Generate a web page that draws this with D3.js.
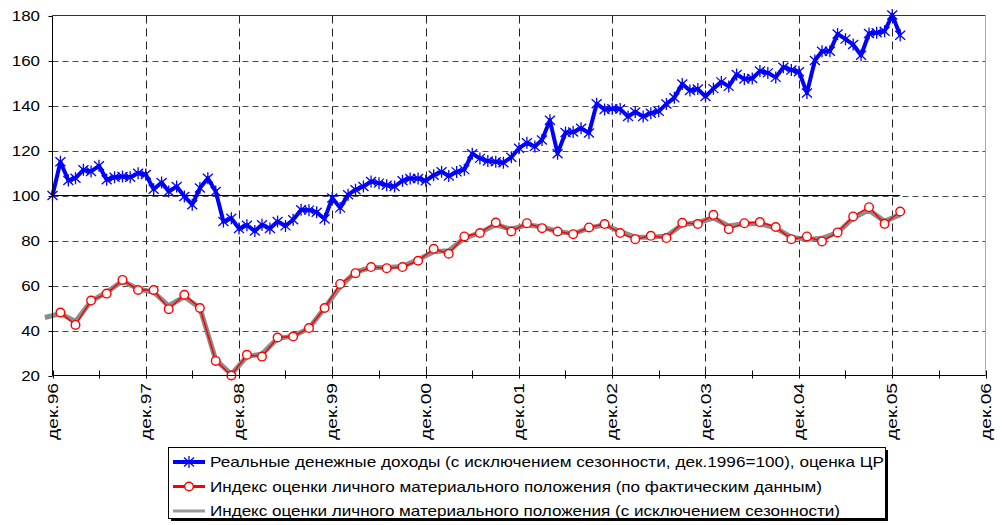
<!DOCTYPE html>
<html>
<head>
<meta charset="utf-8">
<script src="https://cdn.jsdelivr.net/npm/d3@7"></script>
<style>
  body { margin: 0; background: #fff; }
  svg { display: block; font-family: Arial, 'Liberation Sans', sans-serif; }
</style>
</head>
<body>
<main></main>
<script>
// monthly, from dec 1996
const incomeStart = new Date(Date.UTC(1996, 11, 1))
const incomeValues = [
  100, 115, 106.7, 107.7, 111.4, 110.7, 113.2, 107, 108.1, 108.4, 108.1, 109.9,
  109.3, 102.8, 105.8, 101.8, 104, 99.6, 95.9, 103.3, 107.7, 101.8, 88.4, 89.9,
  85.3, 86.8, 84.2, 87, 85.3, 88.4, 86.5, 89.2, 93.7, 93.5, 92.6, 89.6,
  98.9, 94.5, 100.3, 102.6, 104, 106.2, 105.5, 104.6, 104, 106.6, 107.6, 107.6,
  106.6, 109, 110.6, 108.7, 110.5, 111.5, 118.6, 116.5, 115.3, 115, 114.6, 117,
  121, 123.4, 121.8, 124.7, 133.4, 118.6, 128, 128.2, 129.9, 127.8, 140.8, 138.2,
  138.6, 138.4, 135.1, 137.1, 135.1, 136.6, 137.4, 140.7, 143.4, 149.6, 146.7, 147.3,
  144, 147.5, 150.5, 148.5, 153.8, 151.8, 152, 155.3, 154.5, 152.5, 157, 155.8,
  155, 145.6, 160, 164.1, 164.1, 171.8, 169.5, 167.1, 162.3, 172, 172.3, 173,
  180.2, 171.2
]
const baseValue = 100
// every two months, from jan 1997
const ratingStart = new Date(Date.UTC(1997, 0, 1))
const ratingValues = [
  48, 42.5, 53.3, 56.4, 62.5, 58, 58, 49.5, 55.9, 50, 26.5, 20,
  29.2, 28.4, 36.9, 37.3, 41.1, 50, 60.7, 65.5, 68.2, 67.7, 68.2, 71,
  76.3, 74.1, 81.8, 83.3, 88, 84, 87.7, 85.5, 84, 82.8, 85.8, 87.3,
  83.3, 80.6, 82.1, 81.1, 87.9, 87.3, 91.4, 85, 87.7, 88.2, 86, 80.6,
  81.8, 79.6, 83.6, 90.7, 94.8, 87.4, 92.9
]
// seasonally adjusted, every two months, from nov 1996
const ratingSaStart = new Date(Date.UTC(1996, 10, 1))
const ratingSaValues = [
  45.8, 47.5, 44, 53, 57, 62, 58.5, 57, 51, 55, 50, 27, 20.5,
  28.5, 29.5, 36.5, 37.5, 41, 50, 59.5, 66, 68, 68, 68.5, 71.5,
  75, 75.5, 81, 83.5, 87, 85, 87, 86, 84, 83, 85.5, 87,
  84, 81.5, 81.5, 82, 87, 88, 90, 86.5, 87.5, 87.5, 85.5, 81.5,
  80.5, 81, 83.5, 90, 93.5, 88.5, 91.5
]
const yTicks = [20, 40, 60, 80, 100, 120, 140, 160, 180]
const xTickLabels = ['дек.96', 'дек.97', 'дек.98', 'дек.99', 'дек.00', 'дек.01', 'дек.02', 'дек.03', 'дек.04', 'дек.05', 'дек.06']
const legendLabels = [
  'Реальные денежные доходы (с исключением сезонности, дек.1996=100), оценка ЦР',
  'Индекс оценки личного материального положения (по фактическим данным)',
  'Индекс оценки личного материального положения (с исключением сезонности)'
]

const width = 1002
const height = 525
const plot = { left: 52.5, right: 985.5, top: 15.5, bottom: 375.5 }

const svg = d3.select('main')
  .append('svg')
  .attr('width', width)
  .attr('height', height)
svg.append('rect').attr('width', width).attr('height', height).attr('fill', '#fff')

const xStart = incomeStart
const xEnd = d3.utcMonth.offset(incomeStart, 120)
const x = d3.scaleUtc().domain([xStart, xEnd]).range([plot.left, plot.right])
const y = d3.scaleLinear().domain([20, 180]).range([plot.bottom, plot.top])

const incomeData = incomeValues.map((v, i) => ({ date: d3.utcMonth.offset(incomeStart, i), value: v }))
const ratingData = ratingValues.map((v, i) => ({ date: d3.utcMonth.offset(ratingStart, 2 * i), value: v }))
const ratingSaData = ratingSaValues.map((v, i) => ({ date: d3.utcMonth.offset(ratingSaStart, 2 * i), value: v }))
const yearTicks = d3.utcMonth.range(xStart, d3.utcDay.offset(xEnd, 1), 12)
const halfYearTicks = d3.utcMonth.range(xStart, d3.utcDay.offset(xEnd, 1), 6)

// grid
svg.append('g')
  .selectAll('line')
  .data(yTicks.filter(t => t > 20 && t < 180))
  .enter()
  .append('line')
  .attr('x1', plot.left)
  .attr('x2', plot.right)
  .attr('y1', d => Math.round(y(d)) + 0.5)
  .attr('y2', d => Math.round(y(d)) + 0.5)
  .attr('stroke', '#4a4a4a')
  .attr('stroke-dasharray', '6,4')
svg.append('g')
  .selectAll('line')
  .data(yearTicks.slice(1, -1))
  .enter()
  .append('line')
  .attr('x1', d => Math.round(x(d)) + 0.5)
  .attr('x2', d => Math.round(x(d)) + 0.5)
  .attr('y1', plot.top)
  .attr('y2', plot.bottom)
  .attr('stroke', '#222')
  .attr('stroke-dasharray', '8,5')

// frame
svg.append('line')
  .attr('x1', plot.left).attr('x2', plot.right)
  .attr('y1', plot.top).attr('y2', plot.top)
  .attr('stroke', '#333')
svg.append('line')
  .attr('x1', plot.right).attr('x2', plot.right)
  .attr('y1', plot.top).attr('y2', plot.bottom)
  .attr('stroke', '#aaa')

// base line at 100
const line = d3.line().x(d => x(d.date)).y(d => y(d.value))
svg.append('path')
  .attr('d', line(incomeData.map(d => ({ date: d.date, value: baseValue }))))
  .attr('fill', 'none')
  .attr('stroke', '#000')
  .attr('stroke-width', 1.2)

// rating, seasonally adjusted
svg.append('path')
  .attr('d', line(ratingSaData))
  .attr('fill', 'none')
  .attr('stroke', '#8c8c8c')
  .attr('stroke-width', 5)
  .attr('stroke-linejoin', 'round')

// rating, actual
svg.append('path')
  .attr('d', line(ratingData))
  .attr('fill', 'none')
  .attr('stroke', '#ff0000')
  .attr('stroke-width', 1.5)
svg.append('g')
  .selectAll('circle')
  .data(ratingData)
  .enter()
  .append('circle')
  .attr('cx', d => x(d.date))
  .attr('cy', d => y(d.value))
  .attr('r', 4.3)
  .attr('fill', '#fff')
  .attr('stroke', '#ff0000')
  .attr('stroke-width', 1.4)

// income
const star = 'M-5,-4.5L5,4.5M-5,4.5L5,-4.5M0,-6L0,6'
svg.append('path')
  .attr('d', line(incomeData))
  .attr('fill', 'none')
  .attr('stroke', '#0000ff')
  .attr('stroke-width', 4)
  .attr('stroke-linejoin', 'round')
svg.append('g')
  .selectAll('path')
  .data(incomeData)
  .enter()
  .append('path')
  .attr('d', star)
  .attr('transform', d => `translate(${x(d.date)},${y(d.value)})`)
  .attr('fill', 'none')
  .attr('stroke', '#0000ff')
  .attr('stroke-width', 1.3)

// axes
svg.append('line')
  .attr('x1', plot.left).attr('x2', plot.left)
  .attr('y1', plot.top).attr('y2', plot.bottom)
  .attr('stroke', '#000')
svg.append('line')
  .attr('x1', plot.left).attr('x2', plot.right)
  .attr('y1', plot.bottom).attr('y2', plot.bottom)
  .attr('stroke', '#000')
svg.append('g')
  .selectAll('line')
  .data(yTicks)
  .enter()
  .append('line')
  .attr('x1', plot.left - 4)
  .attr('x2', plot.left)
  .attr('y1', d => Math.round(y(d)) + 0.5)
  .attr('y2', d => Math.round(y(d)) + 0.5)
  .attr('stroke', '#000')
svg.append('g')
  .selectAll('text')
  .data(yTicks)
  .enter()
  .append('text')
  .text(d => d)
  .attr('x', 40)
  .attr('y', d => y(d))
  .attr('dy', '0.36em')
  .attr('text-anchor', 'end')
  .attr('textLength', d => String(d).length * 9.4)
  .attr('lengthAdjust', 'spacingAndGlyphs')
  .style('font-size', '14px')
  .attr('fill', '#000')
svg.append('g')
  .selectAll('line')
  .data(halfYearTicks)
  .enter()
  .append('line')
  .attr('x1', d => Math.round(x(d)) + 0.5)
  .attr('x2', d => Math.round(x(d)) + 0.5)
  .attr('y1', plot.bottom - 5)
  .attr('y2', plot.bottom + 3)
  .attr('stroke', '#000')
svg.append('g')
  .selectAll('text')
  .data(yearTicks)
  .enter()
  .append('text')
  .text((d, i) => xTickLabels[i])
  .attr('transform', d => `translate(${x(d)},383) rotate(-90)`)
  .attr('dy', '0.36em')
  .attr('text-anchor', 'end')
  .attr('textLength', 57)
  .attr('lengthAdjust', 'spacingAndGlyphs')
  .style('font-size', '14px')
  .attr('fill', '#000')

// legend
const legend = svg.append('g')
legend.append('rect')
  .attr('x', 171).attr('y', 450).attr('width', 717).attr('height', 71)
  .attr('fill', '#000')
legend.append('rect')
  .attr('x', 168.5).attr('y', 447.5).attr('width', 717).attr('height', 71)
  .attr('fill', '#fff')
  .attr('stroke', '#000')
const legendRows = [
  { color: '#0000ff', width: 4, marker: 'star', textLength: 674 },
  { color: '#ff0000', width: 3, marker: 'circle', textLength: 612 },
  { color: '#999999', width: 3, marker: null, textLength: 630 }
]
legendRows.forEach((row, i) => {
  const cy = 462 + i * 24.5
  legend.append('line')
    .attr('x1', 173).attr('x2', 205)
    .attr('y1', cy).attr('y2', cy)
    .attr('stroke', row.color)
    .attr('stroke-width', row.width)
  if (row.marker === 'star') {
    legend.append('path')
      .attr('d', star)
      .attr('transform', `translate(189,${cy})`)
      .attr('fill', 'none')
      .attr('stroke', row.color)
      .attr('stroke-width', 1.3)
  } else if (row.marker === 'circle') {
    legend.append('circle')
      .attr('cx', 189).attr('cy', cy).attr('r', 4.3)
      .attr('fill', '#fff')
      .attr('stroke', row.color)
      .attr('stroke-width', 1.4)
  }
  legend.append('text')
    .text(legendLabels[i])
    .attr('x', 210)
    .attr('y', cy)
    .attr('dy', '0.36em')
    .attr('textLength', row.textLength)
    .attr('lengthAdjust', 'spacingAndGlyphs')
    .style('font-size', '15px')
    .attr('fill', '#000')
})
</script>
</body>
</html>
